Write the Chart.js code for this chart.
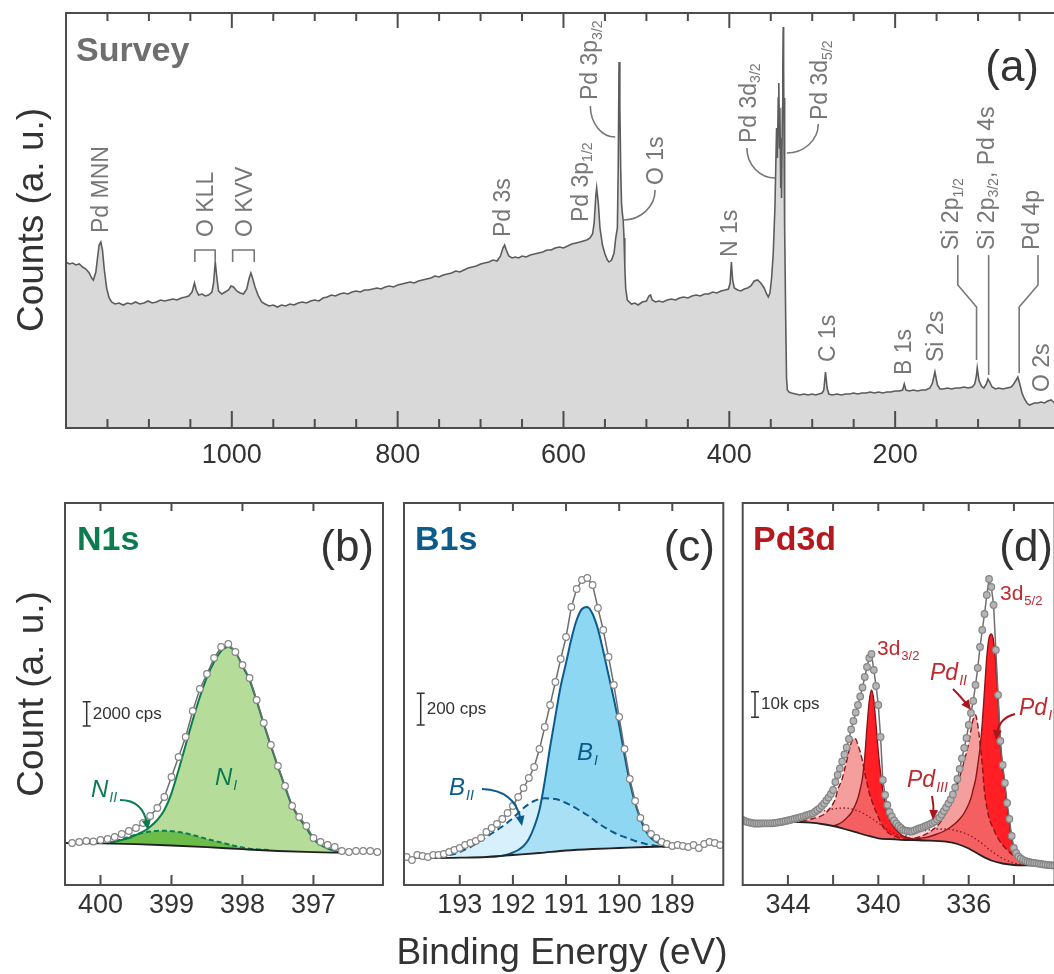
<!DOCTYPE html>
<html>
<head>
<meta charset="utf-8">
<title>XPS spectra</title>
<script src="https://cdn.jsdelivr.net/npm/chart.js@4.4.1/dist/chart.umd.min.js"></script>
<style>
  html, body { margin: 0; padding: 0; background: #fff; overflow: hidden; }
  body { width: 1054px; height: 974px; position: relative; }
  .panel { position: absolute; }
  #xtitle { position: absolute; left: 262px; width: 600px; top: 929px; text-align: center;
            font: 37px 'Liberation Sans', Arial, sans-serif; color: #333; line-height: 46px; }
</style>
</head>
<body>
<div class="panel" style="left:0;top:0;width:1080px;height:480px"><canvas id="survey"></canvas></div>
<div class="panel" style="left:0;top:480px;width:390px;height:494px"><canvas id="n1s"></canvas></div>
<div class="panel" style="left:390px;top:480px;width:340px;height:494px"><canvas id="b1s"></canvas></div>
<div class="panel" style="left:730px;top:480px;width:340px;height:494px"><canvas id="pd3d"></canvas></div>
<div id="xtitle">Binding Energy (eV)</div>
<script>
'use strict';
const FONT = "'Liberation Sans', Arial, Helvetica, sans-serif";

// (a) survey  [binding energy (eV), counts (a.u.)]
const surveyCounts = [[1200,166],[1196,164],[1192,165],[1188,163],[1184,164],[1180,161],[1176,159],[1172,155],[1169,150],[1167,148],[1164,156],[1162,170],[1160,183],[1158,186],[1156,178],[1154,160],[1151,140],[1148,130],[1145,126],[1141,124],[1136,125],[1131,123],[1126,125],[1121,124],[1116,126],[1111,124],[1106,125],[1101,127],[1096,125],[1091,126],[1086,128],[1081,127],[1076,128],[1071,129],[1066,128],[1061,130],[1056,131],[1052,132],[1048,136],[1045,145],[1043,138],[1040,133],[1036,134],[1032,132],[1028,133],[1024,136],[1022,145],[1020,166],[1018,150],[1016,137],[1012,134],[1008,136],[1004,138],[1001,142],[998,141],[994,137],[990,135],[986,134],[982,139],[979,150],[977,155],[975,150],[972,141],[968,132],[964,126],[960,124],[955,122],[950,123],[945,121],[940,123],[935,122],[930,124],[925,123],[920,125],[915,126],[910,125],[905,127],[900,128],[895,127],[890,130],[885,131],[880,133],[875,132],[870,134],[865,135],[860,134],[855,136],[850,137],[845,136],[840,138],[835,138],[830,139],[825,140],[820,139],[815,141],[810,142],[805,141],[800,143],[795,144],[790,145],[785,146],[780,145],[775,147],[770,148],[765,149],[760,150],[755,152],[750,151],[745,153],[740,154],[735,155],[730,157],[725,156],[720,158],[715,160],[710,161],[705,162],[700,164],[695,165],[690,166],[685,168],[680,167],[676,172],[673,180],[671,183],[669,178],[666,172],[662,170],[658,171],[654,170],[650,172],[645,171],[640,173],[635,174],[630,175],[625,176],[620,178],[615,178],[610,180],[605,181],[600,180],[595,182],[590,184],[585,185],[580,186],[576,187],[572,188],[568,190],[565,194],[563,205],[561,232],[560,240],[558,225],[556,200],[553,183],[550,174],[547,168],[545,166],[542,168],[539,175],[537,190],[535,200],[534,260],[533,366],[532,320],[531,260],[530,225],[529,215],[528,208],[527,190],[526,160],[525,140],[523,128],[518,124],[514,125],[510,123],[505,126],[500,127],[497,132],[495,133],[493,128],[489,126],[485,127],[480,126],[475,128],[470,129],[465,128],[460,130],[455,131],[450,130],[445,132],[440,133],[435,132],[430,134],[425,134],[420,136],[415,135],[410,137],[405,138],[401,139],[399,145],[397.5,166],[396,148],[394,140],[390,138],[386,137],[382,139],[378,140],[374,142],[370,147],[366,148],[362,145],[358,140],[355,134],[353,131],[351,135],[349,150],[347,175],[345,220],[344,260],[343,300],[342,270],[341,330],[340.3,345],[339.5,280],[339,320],[338,240],[337.5,290],[337,230],[336,320],[335.5,360],[335,401],[334.5,360],[334,290],[333.5,330],[333,200],[332,110],[331,50],[330,38],[328,36],[325,35],[320,34],[315,33],[310,34],[305,33],[300,34],[296,33],[292,34],[288,35],[286,38],[284,56],[282,40],[280,34],[276,33],[270,34],[265,33],[260,34],[255,34],[250,35],[245,34],[240,35],[235,35],[230,36],[225,35],[220,36],[215,35],[210,36],[205,36],[200,37],[195,37],[191,38],[189,44],[187,38],[183,37],[178,38],[173,37],[168,38],[163,38],[158,40],[155,45],[152,56],[149,43],[146,39],[142,39],[137,40],[132,39],[127,40],[122,40],[117,41],[112,40],[107,41],[104,44],[102,52],[101,60],[99,48],[96,42],[93,40],[90,44],[88,49],[86,46],[83,41],[79,39],[75,40],[70,39],[65,40],[60,41],[57,44],[54,48],[52,51],[50,45],[47,35],[44,29],[41,25],[38,23],[35,24],[32,25],[28,25],[24,26],[20,25],[16,27],[12,28],[9,26],[6,24],[3,23],[0,23],[-4,24],[-8,23]];
const surveyTicks = [1000, 800, 600, 400, 200];

// (b) N1s
const n1sCounts = [[400.4,42],[400.3,43],[400.2,44],[400.1,43.5],[400.0,45],[399.9,46],[399.8,48],[399.7,51],[399.6,54],[399.5,57],[399.4,62],[399.3,69],[399.2,77],[399.1,88],[399.0,108],[398.9,128],[398.8,148],[398.7,174],[398.6,196],[398.5,211],[398.4,227],[398.3,238],[398.2,241],[398.1,233],[398.0,220],[397.9,207],[397.8,185],[397.7,162],[397.6,140],[397.5,119],[397.4,99],[397.3,79],[397.2,68],[397.1,59],[397.0,47],[396.9,43],[396.8,40],[396.7,38],[396.6,34],[396.5,33],[396.4,34],[396.3,34],[396.2,34],[396.1,33]];
const n1sBackground = [[400.5,42],[400.0,41.6],[399.5,40.8],[399.0,39.5],[398.5,37.8],[398.0,35.8],[397.5,34],[397.0,32.8],[396.6,32.3]];
const n1sNI = [[399.9,41.6],[399.8,43.3],[399.7,45],[399.6,47],[399.5,50],[399.4,53.3],[399.3,58.3],[399.2,65],[399.1,75],[399.0,91.7],[398.9,115],[398.8,140],[398.7,165],[398.6,188],[398.5,208],[398.4,223],[398.3,234],[398.2,238],[398.1,233],[398.0,219],[397.9,205],[397.8,184],[397.7,161],[397.6,139],[397.5,118],[397.4,98],[397.3,79],[397.2,67],[397.1,57],[397.0,46],[396.9,40],[396.8,36.5],[396.7,34],[396.6,32.3]];
const n1sNII = [[399.9,41.6],[399.7,45.7],[399.5,50.5],[399.3,53.5],[399.1,54.3],[398.9,53],[398.7,50],[398.5,46],[398.3,42.5],[398.1,39],[397.9,36.2],[397.7,35.3],[397.6,34.7]];
const n1sTicks = [400, 399, 398, 397];

// (c) B1s
const b1sCounts = [[194.0,28],[193.9,25],[193.8,30],[193.7,29],[193.6,28],[193.5,30],[193.4,30],[193.3,31],[193.2,33],[193.1,35],[193.0,37],[192.9,40],[192.8,42],[192.7,44],[192.6,47],[192.5,53],[192.4,57],[192.3,61],[192.2,66],[192.1,72],[192.0,79],[191.9,88],[191.8,97],[191.7,107],[191.6,118],[191.5,136],[191.4,158],[191.3,180],[191.2,203],[191.1,226],[191.0,248],[190.9,278],[190.8,296],[190.7,305],[190.6,307],[190.5,300],[190.4,277],[190.3,255],[190.2,228],[190.1,200],[190.0,168],[189.9,136],[189.8,106],[189.7,84],[189.6,67],[189.5,57],[189.4,51],[189.3,47],[189.2,43],[189.1,41],[189.0,39],[188.9,40],[188.8,39],[188.7,38],[188.6,40],[188.5,37],[188.4,41],[188.3,43],[188.2,42],[188.1,40]];
const b1sBackground = [[194.05,27],[193.5,27],[193.0,27.3],[192.5,28],[192.0,30],[191.5,32],[191.0,34.5],[190.5,36],[190.0,37],[189.5,38],[189.0,38.7],[188.6,39]];
const b1sBI = [[192.5,28],[192.4,28.2],[192.3,28.6],[192.2,29.2],[192.1,30.5],[192.0,32.5],[191.9,35],[191.8,39],[191.7,46],[191.6,58],[191.5,75],[191.4,104],[191.3,138],[191.2,169],[191.1,199],[191.0,222],[190.9,246],[190.8,265],[190.7,276],[190.6,278],[190.5,271],[190.4,256],[190.3,234],[190.2,210],[190.1,186],[190.0,160],[189.9,130],[189.8,103],[189.7,82],[189.6,66],[189.5,54],[189.4,47],[189.3,43],[189.2,41],[189.1,40],[189.0,39],[188.9,38.6],[188.8,38.6]];
const b1sBII = [[193.2,30],[193.1,31],[193.0,33],[192.9,35.5],[192.8,38],[192.7,41],[192.6,44.5],[192.5,48],[192.4,51.5],[192.3,55],[192.2,58.5],[192.1,62.5],[192.0,67],[191.9,72],[191.8,77],[191.7,81],[191.6,84],[191.5,86],[191.4,86.7],[191.3,86.5],[191.2,86],[191.1,84.5],[191.0,82],[190.9,79.5],[190.8,76.5],[190.7,73],[190.6,70],[190.5,66],[190.4,62],[190.3,58.5],[190.2,55.5],[190.1,52.5],[190.0,50],[189.9,48],[189.8,46],[189.7,44],[189.6,42.5],[189.5,41],[189.4,40],[189.3,39],[189.2,38.5],[189.1,38],[189.0,38]];
const b1sTicks = [193, 192, 191, 190, 189];

// (d) Pd3d
const pdCounts = [[346.0,65],[345.9,64],[345.8,63],[345.7,62.5],[345.6,62],[345.5,61.5],[345.4,61.5],[345.3,61.5],[345.2,61.5],[345.1,61.7],[345.0,61.7],[344.9,61.7],[344.8,61.7],[344.7,61.7],[344.6,62],[344.5,62.3],[344.4,62.7],[344.3,63],[344.2,63.5],[344.1,64],[344.0,64.5],[343.9,65],[343.8,65.7],[343.7,66.3],[343.6,66.8],[343.5,67.4],[343.4,68],[343.3,68.7],[343.2,69.5],[343.1,70.2],[343.0,71],[342.9,71.7],[342.8,73.3],[342.7,75],[342.6,76.7],[342.5,79],[342.4,81.5],[342.3,84.5],[342.2,87.5],[342.1,91],[342.0,95],[341.9,103],[341.8,110],[341.7,116.5],[341.6,123.5],[341.5,130.5],[341.4,137.5],[341.3,146],[341.2,155.5],[341.1,164],[341.0,172.5],[340.9,180],[340.8,188.5],[340.7,197.5],[340.6,208],[340.5,218],[340.4,227],[340.3,231],[340.2,215],[340.1,199],[340.0,180],[339.9,148],[339.8,105],[339.7,90],[339.6,80],[339.5,73],[339.4,68.5],[339.3,64.5],[339.2,61.5],[339.1,59],[339.0,57],[338.9,55],[338.8,54.3],[338.7,54],[338.6,53.7],[338.5,53.5],[338.4,54.5],[338.3,55.5],[338.2,56.5],[338.1,57],[338.0,58],[337.9,59],[337.8,60],[337.7,61],[337.6,62],[337.5,63.5],[337.4,65.5],[337.3,67.5],[337.2,70.5],[337.1,74],[337.0,77.5],[336.9,81.5],[336.8,85.5],[336.7,90.5],[336.6,97.5],[336.5,106],[336.4,116],[336.3,126.5],[336.2,137],[336.1,147],[336.0,160],[335.9,172],[335.8,184],[335.7,200],[335.6,217],[335.5,238],[335.4,255],[335.3,271],[335.2,290],[335.1,306],[335.0,298],[334.9,280],[334.8,235],[334.7,190],[334.6,144],[334.5,120],[334.4,102],[334.3,82],[334.2,66],[334.1,49],[334.0,37],[333.9,32],[333.8,28.5],[333.7,26.5],[333.6,25.2],[333.5,24.2],[333.4,23.3],[333.3,22.8],[333.2,22.4],[333.1,22],[333.0,21.7],[332.9,21.4],[332.8,21],[332.7,20.6],[332.6,20.3],[332.5,20],[332.4,19.8],[332.3,19.6],[332.2,19.4]];
const pdBackground = [[344.3,63],[344.0,63.3],[343.5,63],[343.0,62.3],[342.5,61],[342.0,59],[341.5,56],[341.0,52.8],[340.5,49.5],[340.0,46.7],[339.5,45.8],[339.0,45.2],[338.0,44.5],[337.0,43.3],[336.5,41],[336.0,36.5],[335.5,30],[335.0,24.5],[334.5,21.5],[334.0,20],[333.5,19.6],[332.2,19.1]];
const pdI32 = [[342.0,59],[341.8,60.5],[341.6,63],[341.4,67],[341.2,72],[341.0,81],[340.9,87],[340.8,96],[340.7,107],[340.6,128],[340.5,158],[340.4,184],[340.3,195],[340.2,185],[340.1,160],[340.0,133],[339.9,112],[339.8,95],[339.7,83],[339.6,74],[339.5,66],[339.4,61],[339.2,55],[339.0,50.5],[338.8,48],[338.4,45.7],[338.0,44.6]];
const pdII32 = [[343.8,63.2],[343.3,64.5],[343.0,65.8],[342.6,68.3],[342.3,72.5],[342.1,78],[341.9,86],[341.8,95],[341.6,106],[341.5,115],[341.4,124],[341.3,134],[341.2,142],[341.1,146.5],[341.0,146],[340.9,140],[340.8,133],[340.7,124],[340.6,112],[340.5,102],[340.4,92],[340.3,85],[340.1,73],[340.0,68],[339.8,58.5],[339.6,53],[339.4,50],[339.0,46.7],[338.6,45.2]];
const pdIII32 = [[344.3,63.2],[344.0,64.5],[343.5,66.8],[343.0,70],[342.5,73.5],[342.0,76],[341.5,77],[341.0,75],[340.5,69.5],[340.0,62],[339.5,54],[339.0,49],[338.5,46.5],[338.0,44.8]];
const pdI52 = [[338.4,45.5],[338.2,46.5],[337.8,48],[337.4,51],[337.0,55],[336.6,61.5],[336.4,66],[336.2,72],[336.0,81],[335.9,87],[335.8,96],[335.7,105],[335.6,120],[335.5,137],[335.4,162],[335.3,195],[335.2,228],[335.1,247],[335.0,251],[334.9,244],[334.8,220],[334.7,185],[334.6,140],[334.5,118],[334.4,99],[334.3,79],[334.2,62],[334.1,47],[334.0,36],[333.9,31],[333.8,27.5],[333.6,24.5],[333.4,23],[333.2,22],[333.0,21.2],[332.6,20],[332.2,19.3]];
const pdII52 = [[338.8,45.4],[338.6,46],[338.2,48],[337.8,52],[337.6,55],[337.4,59],[337.2,64.5],[337.0,73],[336.8,83],[336.6,94],[336.4,108],[336.2,124],[336.0,142],[335.9,155],[335.8,166],[335.7,170],[335.6,160],[335.5,142],[335.4,120],[335.3,93],[335.2,78],[335.1,67],[334.9,56],[334.7,46.5],[334.4,37.5],[334.0,29],[333.6,24.5],[333.2,22],[332.8,20.5],[332.2,19.3]];
const pdIII52 = [[339.5,45.9],[339.0,48],[338.5,51],[338.0,54],[337.5,56],[337.0,56],[336.5,54],[336.0,50],[335.5,43],[335.0,34],[334.5,26.5],[334.0,22],[333.5,20]];
const pdTicks = [344, 340, 336];

Chart.defaults.font.family = FONT;
Chart.defaults.color = '#333';

function pts(arr) {
    return arr.map(p => ({ x: p[0], y: p[1] }));
}

function tickText(v, labels) {
    let r = Math.round(v);
    return (Math.abs(v - r) < 1e-6 && labels.includes(r)) ? String(r) : '';
}

// frame + inward ticks on top and bottom
const framePlugin = {
    id: 'frame',
    defaults: { major: 1, longB: 10, longT: 8, shortB: 10, shortT: 8 },
    afterDatasetsDraw(chart, args, o) {
        let ctx = chart.ctx;
        let a = chart.chartArea;
        let xs = chart.scales.x;
        ctx.save();
        ctx.strokeStyle = '#4d4d4d';
        ctx.lineWidth = 2;
        ctx.beginPath();
        xs.ticks.forEach(t => {
            let px = xs.getPixelForValue(t.value);
            if (px < a.left + 3 || px > a.right - 3) return;
            let q = t.value / o.major;
            let big = Math.abs(q - Math.round(q)) < 1e-6;
            ctx.moveTo(px, a.bottom);
            ctx.lineTo(px, a.bottom - (big ? o.longB : o.shortB));
            ctx.moveTo(px, a.top);
            ctx.lineTo(px, a.top + (big ? o.longT : o.shortT));
        });
        ctx.stroke();
        ctx.strokeRect(a.left, a.top, a.right - a.left, a.bottom - a.top);
        ctx.restore();
    }
};
Chart.register(framePlugin);

function makeOptions(cfg) {
    return {
        responsive: true,
        maintainAspectRatio: false,
        animation: false,
        events: [],
        layout: { padding: { left: cfg.padLeft, right: cfg.padRight, top: cfg.padTop, bottom: 0 } },
        plugins: {
            legend: { display: false },
            tooltip: { enabled: false },
            filler: { drawTime: 'beforeDatasetsDraw' },
            frame: cfg.frame
        },
        scales: {
            x: {
                type: 'linear',
                reverse: true,
                min: cfg.min,
                max: cfg.max,
                grid: { display: false, drawTicks: false },
                border: { display: false },
                afterFit: s => { s.height = cfg.axisHeight; },
                ticks: {
                    stepSize: cfg.step,
                    includeBounds: false,
                    autoSkip: false,
                    maxRotation: 0,
                    padding: cfg.tickPad,
                    color: '#333',
                    font: { size: 27, family: FONT },
                    callback: v => tickText(v, cfg.labels)
                }
            },
            y: { display: false, min: 0, max: cfg.ymax }
        }
    };
}

// ---------- drawing helpers for the annotations ----------
function vText(ctx, x, yBottom, parts, size) {
    ctx.save();
    ctx.translate(x, yBottom);
    ctx.rotate(-Math.PI / 2);
    ctx.textAlign = 'left';
    ctx.textBaseline = 'alphabetic';
    let pos = 0;
    parts.forEach(p => {
        let sub = p[1] === 1;
        ctx.font = (sub ? Math.round(size * 0.62) : size) + 'px ' + FONT;
        ctx.fillText(p[0], pos, size * 0.36 + (sub ? size * 0.2 : 0));
        pos += ctx.measureText(p[0]).width;
    });
    ctx.restore();
}

function subLabel(ctx, x, y, main, sub, size, color, italic) {
    let st = italic ? 'italic ' : '';
    ctx.fillStyle = color;
    ctx.textAlign = 'left';
    ctx.textBaseline = 'alphabetic';
    ctx.font = st + size + 'px ' + FONT;
    ctx.fillText(main, x, y);
    let w = ctx.measureText(main).width;
    ctx.font = st + Math.round(size * 0.6) + 'px ' + FONT;
    ctx.fillText(sub, x + w + 1, y + size * 0.22);
}

function arrow(ctx, x0, y0, cx, cy, x1, y1, color) {
    let ang = Math.atan2(y1 - cy, x1 - cx);
    let L = 10, W = 4.5;
    ctx.strokeStyle = color;
    ctx.fillStyle = color;
    ctx.lineWidth = 2;
    ctx.beginPath();
    ctx.moveTo(x0, y0);
    ctx.quadraticCurveTo(cx, cy, x1 - Math.cos(ang) * 6, y1 - Math.sin(ang) * 6);
    ctx.stroke();
    ctx.beginPath();
    ctx.moveTo(x1, y1);
    ctx.lineTo(x1 - Math.cos(ang) * L + Math.sin(ang) * W, y1 - Math.sin(ang) * L - Math.cos(ang) * W);
    ctx.lineTo(x1 - Math.cos(ang) * L - Math.sin(ang) * W, y1 - Math.sin(ang) * L + Math.cos(ang) * W);
    ctx.closePath();
    ctx.fill();
}

function scaleBar(ctx, x, y0, y1, text) {
    ctx.strokeStyle = '#333';
    ctx.lineWidth = 1.5;
    ctx.beginPath();
    ctx.moveTo(x, y0); ctx.lineTo(x, y1);
    ctx.moveTo(x - 4, y0); ctx.lineTo(x + 4, y0);
    ctx.moveTo(x - 4, y1); ctx.lineTo(x + 4, y1);
    ctx.stroke();
    ctx.fillStyle = '#333';
    ctx.font = '17px ' + FONT;
    ctx.textAlign = 'left';
    ctx.textBaseline = 'middle';
    ctx.fillText(text, x + 6, (y0 + y1) / 2);
}

function panelTitle(ctx, text, color, x, letter, xr) {
    ctx.textBaseline = 'alphabetic';
    ctx.textAlign = 'left';
    ctx.font = 'bold 34px ' + FONT;
    ctx.fillStyle = color;
    ctx.fillText(text, x, 550);
    ctx.textAlign = 'right';
    ctx.font = '44px ' + FONT;
    ctx.fillStyle = '#333';
    ctx.fillText(letter, xr, 561);
}

function rotTitle(ctx, text, x, y) {
    ctx.save();
    ctx.translate(x, y);
    ctx.rotate(-Math.PI / 2);
    ctx.font = '37px ' + FONT;
    ctx.fillStyle = '#333';
    ctx.textAlign = 'center';
    ctx.textBaseline = 'middle';
    ctx.fillText(text, 0, 0);
    ctx.restore();
}

function bend(ctx, x0, y0, x1, y1) {
    ctx.beginPath();
    ctx.moveTo(x0, y0);
    ctx.bezierCurveTo(x0, y0 + (y1 - y0) * 0.55, x0 + (x1 - x0) * 0.45, y1, x1, y1);
    ctx.stroke();
}

function poly(ctx, p) {
    ctx.beginPath();
    ctx.moveTo(p[0][0], p[0][1]);
    for (let i = 1; i < p.length; i++) ctx.lineTo(p[i][0], p[i][1]);
    ctx.stroke();
}

const peakLabels = [
    { e: 1159, y: 233, parts: [['Pd MNN']] },
    { e: 1033, y: 237, parts: [['O KLL']] },
    { e: 986, y: 237, parts: [['O KVV']] },
    { e: 674, y: 237, parts: [['Pd 3s']] },
    { e: 581, y: 222, parts: [['Pd 3p'], ['1/2', 1]] },
    { e: 569, y: 100, parts: [['Pd 3p'], ['3/2', 1]] },
    { e: 490, y: 185, parts: [['O 1s']] },
    { e: 401, y: 257, parts: [['N 1s']] },
    { e: 378, y: 143, parts: [['Pd 3d'], ['3/2', 1]] },
    { e: 292, y: 120, parts: [['Pd 3d'], ['5/2', 1]] },
    { e: 282, y: 362, parts: [['C 1s']] },
    { e: 191, y: 375, parts: [['B 1s']] },
    { e: 152, y: 362, parts: [['Si 2s']] },
    { e: 134, y: 250, parts: [['Si 2p'], ['1/2', 1]] },
    { e: 91, y: 250, parts: [['Si 2p'], ['3/2', 1], [', Pd 4s']] },
    { e: 36, y: 250, parts: [['Pd 4p']] },
    { e: 25, y: 392, parts: [['O 2s']] }
];

function surveyNotes(chart) {
    let ctx = chart.ctx;
    let X = v => chart.scales.x.getPixelForValue(v);
    ctx.save();
    ctx.fillStyle = '#777';
    peakLabels.forEach(l => vText(ctx, X(l.e), l.y, l.parts, 23));
    ctx.strokeStyle = '#777';
    ctx.lineWidth = 1.6;
    poly(ctx, [[X(1044.6), 262], [X(1044.6), 250], [X(1020.1), 250], [X(1020.1), 262]]);
    poly(ctx, [[X(999), 262], [X(999), 250], [X(973), 250], [X(973), 262]]);
    bend(ctx, X(567.6), 106, X(537.6), 137);
    bend(ctx, X(489.5), 190, X(527.6), 220);
    bend(ctx, X(378.8), 148, X(344.7), 178);
    bend(ctx, X(292.7), 124, X(330.6), 153);
    poly(ctx, [[X(124.4), 255], [X(124.4), 285], [X(101.8), 307], [X(101.8), 360]]);
    poly(ctx, [[X(87.2), 255], [X(87.2), 375]]);
    poly(ctx, [[X(27.7), 255], [X(27.7), 285], [X(50.4), 307], [X(50.4), 373]]);
    ctx.font = 'bold 34px ' + FONT;
    ctx.fillStyle = '#6e6e6e';
    ctx.textAlign = 'left';
    ctx.textBaseline = 'alphabetic';
    ctx.fillText('Survey', 76, 61);
    ctx.font = '44px ' + FONT;
    ctx.fillStyle = '#333';
    ctx.textAlign = 'right';
    ctx.fillText('(a)', 1039, 81);
    rotTitle(ctx, 'Counts (a. u.)', 33, 220);
    ctx.restore();
}

function n1sNotes(chart) {
    let ctx = chart.ctx;
    ctx.save();
    ctx.translate(0, -480);
    panelTitle(ctx, 'N1s', '#0b7c4f', 77, '(b)', 374);
    rotTitle(ctx, 'Count (a. u.)', 33, 694);
    scaleBar(ctx, 86.7, 701.7, 726, '2000 cps');
    subLabel(ctx, 215, 785, 'N', 'I', 24, '#0b7c4f', true);
    subLabel(ctx, 91, 797, 'N', 'II', 24, '#0b7c4f', true);
    arrow(ctx, 120, 800, 143, 800, 148, 830, '#0b7c4f');
    ctx.restore();
}

function b1sNotes(chart) {
    let ctx = chart.ctx;
    ctx.save();
    ctx.translate(-390, -480);
    panelTitle(ctx, 'B1s', '#0b5b8c', 415, '(c)', 715);
    scaleBar(ctx, 420.7, 693.3, 725, '200 cps');
    subLabel(ctx, 577, 760, 'B', 'I', 24, '#0b5b8c', true);
    subLabel(ctx, 449, 795, 'B', 'II', 24, '#0b5b8c', true);
    arrow(ctx, 482, 789, 515, 790, 522, 826, '#0b5b8c');
    ctx.restore();
}

function pdNotes(chart) {
    let ctx = chart.ctx;
    let red = '#bd2a30';
    ctx.save();
    ctx.translate(-730, -480);
    panelTitle(ctx, 'Pd3d', '#b3191f', 753, '(d)', 1053);
    scaleBar(ctx, 755, 691.7, 717.3, '10k cps');
    subLabel(ctx, 877, 655, '3d', '3/2', 21, red, false);
    subLabel(ctx, 1000, 600, '3d', '5/2', 21, red, false);
    subLabel(ctx, 930, 680, 'Pd', 'II', 23, red, true);
    subLabel(ctx, 907, 787, 'Pd', 'III', 23, red, true);
    subLabel(ctx, 1019, 715, 'Pd', 'I', 23, red, true);
    arrow(ctx, 953, 689, 962, 698, 971, 710, '#a8161c');
    arrow(ctx, 932, 796, 934, 806, 933, 820, '#a8161c');
    arrow(ctx, 1015, 714, 999, 718, 996, 740, '#a8161c');
    ctx.restore();
}

// ---------- dataset helpers ----------
function dots(arr, fillColor) {
    return {
        data: pts(arr), order: 0, showLine: true, fill: false,
        borderColor: '#6e6e6e', borderWidth: 1.5,
        pointRadius: 3.3, pointBackgroundColor: fillColor,
        pointBorderColor: '#858585', pointBorderWidth: 1.2
    };
}

function curveSet(arr, order, color, dash, fill, width) {
    return {
        data: pts(arr), order: order, borderColor: color, borderWidth: width || 2,
        borderDash: dash, pointRadius: 0, cubicInterpolationMode: 'monotone',
        fill: fill ? { target: 1 } : false, backgroundColor: fill || 'transparent'
    };
}

// ---------- charts ----------
new Chart(document.getElementById('survey'), {
    type: 'line',
    data: {
        datasets: [{
            data: pts(surveyCounts), borderColor: '#5c5c5c', borderWidth: 1.6,
            pointRadius: 0, fill: 'origin', backgroundColor: '#d9d9d9'
        }]
    },
    options: makeOptions({
        padLeft: 66, padRight: 12.4, padTop: 13, axisHeight: 52, tickPad: 11,
        min: -8, max: 1200, step: 50, labels: surveyTicks, ymax: 415,
        frame: { major: 200, longB: 17, longT: 15, shortB: 9, shortT: 8 }
    }),
    plugins: [{ id: 'surveyNotes', afterDraw: surveyNotes }]
});

new Chart(document.getElementById('n1s'), {
    type: 'line',
    data: {
        datasets: [
            dots(n1sCounts, '#ffffff'),
            curveSet(n1sBackground, 1, '#222', [], null, 1.8),
            curveSet(n1sNII, 2, '#0b7c4f', [5, 3], 'rgba(96,182,60,0.85)'),
            curveSet(n1sNI, 3, '#0b7c4f', [], '#b6dc9a')
        ]
    },
    options: makeOptions({
        padLeft: 65, padRight: 7, padTop: 23, axisHeight: 89, tickPad: 4,
        min: 396.02, max: 400.5, step: 1, labels: n1sTicks, ymax: 382,
        frame: { major: 1 }
    }),
    plugins: [{ id: 'n1sNotes', afterDraw: n1sNotes }]
});

new Chart(document.getElementById('b1s'), {
    type: 'line',
    data: {
        datasets: [
            dots(b1sCounts, '#ffffff'),
            curveSet(b1sBackground, 1, '#222', [], null, 1.8),
            curveSet(b1sBII, 2, '#0b5b8c', [7, 4], 'rgba(190,230,248,0.6)'),
            curveSet(b1sBI, 3, '#0b5b8c', [], '#8dd7f3')
        ]
    },
    options: makeOptions({
        padLeft: 14, padRight: 6.7, padTop: 23, axisHeight: 89, tickPad: 4,
        min: 188.04, max: 194.05, step: 1, labels: b1sTicks, ymax: 382,
        frame: { major: 1 }
    }),
    plugins: [{ id: 'b1sNotes', afterDraw: b1sNotes }]
});

new Chart(document.getElementById('pd3d'), {
    type: 'line',
    data: {
        datasets: [
            dots(pdCounts, '#b5b5b5'),
            curveSet(pdBackground, 1, '#222', [], null, 1.8),
            curveSet(pdII52, 2, '#8d1518', [6, 3], 'rgba(240,120,120,0.72)', 1.4),
            curveSet(pdII32, 3, '#8d1518', [6, 3], 'rgba(240,120,120,0.72)', 1.4),
            curveSet(pdI52, 4, '#8d1518', [], '#ff1f25', 1.4),
            curveSet(pdI32, 5, '#8d1518', [], '#ff1f25', 1.4),
            curveSet(pdIII52, 6, '#8d1518', [1.5, 2.5], '#fcd4da', 1.3),
            curveSet(pdIII32, 7, '#8d1518', [1.5, 2.5], '#fcd4da', 1.3)
        ]
    },
    options: makeOptions({
        padLeft: 12.7, padRight: 15.4, padTop: 23, axisHeight: 89, tickPad: 4,
        min: 332.2, max: 346, step: 2, labels: pdTicks, ymax: 382,
        frame: { major: 2 }
    }),
    plugins: [{ id: 'pdNotes', afterDraw: pdNotes }]
});
</script>
</body>
</html>
